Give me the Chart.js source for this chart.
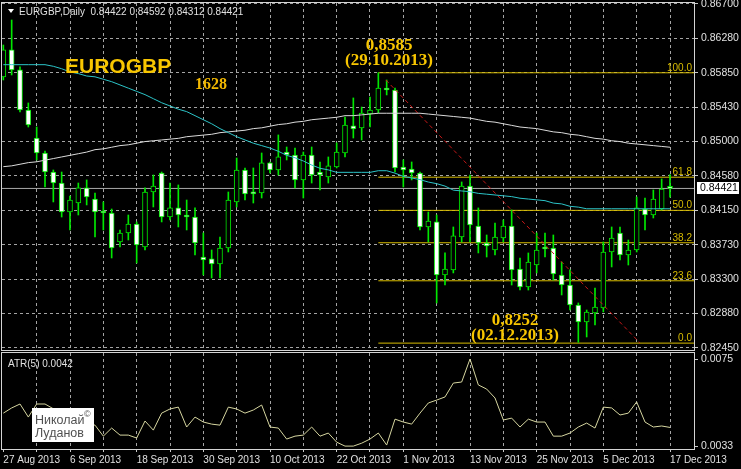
<!DOCTYPE html>
<html>
<head>
<meta charset="utf-8">
<script src="https://cdn.jsdelivr.net/npm/chart.js@4.4.1/dist/chart.umd.min.js"></script>
<style>
  html, body { margin: 0; padding: 0; background: #000; }
  #wrap { position: relative; width: 741px; height: 469px; background: #000; overflow: hidden; }
  #main { position: absolute; left: 0; top: 0; width: 741px; height: 351px; }
  #atr { position: absolute; left: 0; top: 351px; width: 741px; height: 118px; }
</style>
</head>
<body>
<div id="wrap">
  <canvas id="main" width="741" height="351"></canvas>
  <canvas id="atr" width="741" height="118"></canvas>
</div>
<script>
// daily bars, 27 Aug 2013 .. 17 Dec 2013
const dates = [
  '27 Aug 2013', '28 Aug 2013', '29 Aug 2013', '30 Aug 2013', '2 Sep 2013', '3 Sep 2013', '4 Sep 2013', '5 Sep 2013', '6 Sep 2013', '9 Sep 2013',
  '10 Sep 2013', '11 Sep 2013', '12 Sep 2013', '13 Sep 2013', '16 Sep 2013', '17 Sep 2013', '18 Sep 2013', '19 Sep 2013', '20 Sep 2013', '23 Sep 2013',
  '24 Sep 2013', '25 Sep 2013', '26 Sep 2013', '27 Sep 2013', '30 Sep 2013', '1 Oct 2013', '2 Oct 2013', '3 Oct 2013', '4 Oct 2013', '7 Oct 2013',
  '8 Oct 2013', '9 Oct 2013', '10 Oct 2013', '11 Oct 2013', '14 Oct 2013', '15 Oct 2013', '16 Oct 2013', '17 Oct 2013', '18 Oct 2013', '21 Oct 2013',
  '22 Oct 2013', '23 Oct 2013', '24 Oct 2013', '25 Oct 2013', '28 Oct 2013', '29 Oct 2013', '30 Oct 2013', '31 Oct 2013', '1 Nov 2013', '4 Nov 2013',
  '5 Nov 2013', '6 Nov 2013', '7 Nov 2013', '8 Nov 2013', '11 Nov 2013', '12 Nov 2013', '13 Nov 2013', '14 Nov 2013', '15 Nov 2013', '18 Nov 2013',
  '19 Nov 2013', '20 Nov 2013', '21 Nov 2013', '22 Nov 2013', '25 Nov 2013', '26 Nov 2013', '27 Nov 2013', '28 Nov 2013', '29 Nov 2013', '2 Dec 2013',
  '3 Dec 2013', '4 Dec 2013', '5 Dec 2013', '6 Dec 2013', '9 Dec 2013', '10 Dec 2013', '11 Dec 2013', '12 Dec 2013', '13 Dec 2013', '16 Dec 2013',
  '17 Dec 2013'
]

const open = [
  0.85798, 0.86132, 0.85885, 0.85390, 0.85044, 0.84859, 0.84624, 0.84488, 0.84130, 0.84241,
  0.84427, 0.84291, 0.84142, 0.84118, 0.83760, 0.83871, 0.83982, 0.83698, 0.84377, 0.84612,
  0.84068, 0.84180, 0.84093, 0.84068, 0.83574, 0.83550, 0.83488, 0.83685, 0.84254, 0.84649,
  0.84377, 0.84365, 0.84736, 0.84649, 0.84871, 0.84834, 0.84526, 0.84834, 0.84624, 0.84563,
  0.84686, 0.84859, 0.85193, 0.85168, 0.85341, 0.85390, 0.85662, 0.85637, 0.84686, 0.84661,
  0.84612, 0.83945, 0.84007, 0.83352, 0.83414, 0.83821, 0.84451, 0.83957, 0.83747, 0.83661,
  0.83809, 0.83957, 0.83426, 0.83204, 0.83475, 0.83685, 0.83685, 0.83352, 0.83228, 0.82981,
  0.82771, 0.82882, 0.82944, 0.83636, 0.83871, 0.83599, 0.83661, 0.84167, 0.84093, 0.84167,
  0.84422
]
const high = [
  0.86193, 0.86502, 0.85922, 0.85477, 0.85180, 0.84884, 0.84649, 0.84624, 0.84328, 0.84488,
  0.84526, 0.84365, 0.84254, 0.84167, 0.83908, 0.84093, 0.84007, 0.84427, 0.84587, 0.84624,
  0.84488, 0.84464, 0.84278, 0.84180, 0.83871, 0.83661, 0.83821, 0.84377, 0.84797, 0.84674,
  0.84674, 0.84859, 0.84748, 0.85082, 0.84933, 0.84921, 0.84871, 0.84933, 0.84748, 0.84810,
  0.84983, 0.85304, 0.85539, 0.85427, 0.85551, 0.85850, 0.85761, 0.85662, 0.84773, 0.84748,
  0.84624, 0.84130, 0.84093, 0.83624, 0.83945, 0.84501, 0.84587, 0.84180, 0.83846, 0.83994,
  0.84031, 0.84155, 0.83562, 0.83624, 0.83871, 0.83871, 0.83846, 0.83512, 0.83414, 0.83006,
  0.82919, 0.83191, 0.83760, 0.83945, 0.83945, 0.83784, 0.84315, 0.84303, 0.84402, 0.84538,
  0.84592
]
const low = [
  0.85761, 0.85823, 0.85366, 0.85180, 0.84773, 0.84439, 0.84254, 0.84068, 0.83908, 0.84093,
  0.84217, 0.83821, 0.83908, 0.83562, 0.83698, 0.83784, 0.83500, 0.83661, 0.84192, 0.84007,
  0.84031, 0.83945, 0.83908, 0.83599, 0.83352, 0.83315, 0.83315, 0.83636, 0.84192, 0.84278,
  0.84241, 0.84303, 0.84612, 0.84587, 0.84773, 0.84427, 0.84303, 0.84488, 0.84402, 0.84488,
  0.84674, 0.84810, 0.85044, 0.85020, 0.85180, 0.85353, 0.85576, 0.84624, 0.84439, 0.84526,
  0.83908, 0.83760, 0.83006, 0.83228, 0.83377, 0.83760, 0.83760, 0.83624, 0.83574, 0.83599,
  0.83760, 0.83228, 0.83166, 0.83166, 0.83377, 0.83574, 0.83290, 0.83105, 0.82919, 0.82520,
  0.82586, 0.82734, 0.82895, 0.83451, 0.83537, 0.83475, 0.83636, 0.83908, 0.84056, 0.84155,
  0.84312
]
const close = [
  0.86132, 0.85885, 0.85390, 0.85205, 0.84859, 0.84624, 0.84488, 0.84130, 0.84278, 0.84427,
  0.84315, 0.84130, 0.84118, 0.83685, 0.83871, 0.83982, 0.83722, 0.84377, 0.84451, 0.84068,
  0.84180, 0.84093, 0.84068, 0.83747, 0.83537, 0.83488, 0.83685, 0.84278, 0.84649, 0.84353,
  0.84353, 0.84736, 0.84649, 0.84810, 0.84834, 0.84526, 0.84834, 0.84587, 0.84587, 0.84699,
  0.84871, 0.85205, 0.85156, 0.85353, 0.85390, 0.85662, 0.85637, 0.84674, 0.84649, 0.84612,
  0.83945, 0.84019, 0.83352, 0.83426, 0.83834, 0.84451, 0.83970, 0.83747, 0.83710, 0.83821,
  0.83957, 0.83414, 0.83204, 0.83512, 0.83661, 0.83673, 0.83364, 0.83228, 0.82981, 0.82771,
  0.82895, 0.82956, 0.83636, 0.83809, 0.83599, 0.83661, 0.84180, 0.84093, 0.84291, 0.84414,
  0.84421
]

// moving averages drawn on the price window
const maFast = [
  0.8595, 0.8595, 0.8595, 0.8595, 0.8595, 0.8595, 0.8593, 0.8590, 0.8586, 0.8584,
  0.8581, 0.8580, 0.8577, 0.8574, 0.8570, 0.8566, 0.8562, 0.8558, 0.8553, 0.8548,
  0.8544, 0.8540, 0.8537, 0.8532, 0.8527, 0.8522, 0.8516, 0.8511, 0.8506, 0.8502,
  0.8498, 0.8495, 0.8492, 0.8488, 0.8483, 0.8480, 0.8476, 0.8471, 0.8467, 0.8465,
  0.8462, 0.8462, 0.8462, 0.8462, 0.8462, 0.8464, 0.8464, 0.8461, 0.8457, 0.8455,
  0.8453, 0.8450, 0.8448, 0.8445, 0.8440, 0.8439, 0.8438, 0.8436, 0.8435, 0.8434,
  0.8433, 0.8432, 0.8430, 0.8429, 0.8428, 0.8427, 0.8424, 0.8423, 0.8420, 0.8419,
  0.8417, 0.8417, 0.8417, 0.8417, 0.8417, 0.8417, 0.8417, 0.8417, 0.8417, 0.8417,
  0.8417
]
const maSlow = [
  0.8469, 0.8470, 0.8472, 0.8474, 0.8475, 0.8477, 0.8479, 0.8481, 0.8483, 0.8485,
  0.8487, 0.8490, 0.8491, 0.8493, 0.8495, 0.8496, 0.8498, 0.8500, 0.8501, 0.8502,
  0.8503, 0.8504, 0.8506, 0.8507, 0.8508, 0.8509, 0.8511, 0.8512, 0.8513, 0.8514,
  0.8516, 0.8517, 0.8519, 0.8521, 0.8522, 0.8524, 0.8525, 0.8527, 0.8528, 0.8529,
  0.8530, 0.8532, 0.8532, 0.8533, 0.8534, 0.8535, 0.8535, 0.8535, 0.8535, 0.8535,
  0.8535, 0.8534, 0.8533, 0.8532, 0.8531, 0.8530, 0.8529, 0.8527, 0.8525, 0.8524,
  0.8522, 0.8520, 0.8518, 0.8517, 0.8516, 0.8514, 0.8512, 0.8511, 0.8509, 0.8508,
  0.8506, 0.8504, 0.8503, 0.8501, 0.8500, 0.8498, 0.8497, 0.8496, 0.8495, 0.8494,
  0.8493
]

// ATR(5) sub window
const atr = [
  0.00489, 0.00514, 0.00533, 0.00470, 0.00533, 0.00533, 0.00510, 0.00490, 0.00470, 0.00450,
  0.00440, 0.00431, 0.00378, 0.00417, 0.00383, 0.00383, 0.00369, 0.00451, 0.00407, 0.00489,
  0.00509, 0.00518, 0.00422, 0.00470, 0.00446, 0.00436, 0.00431, 0.00518, 0.00509, 0.00489,
  0.00504, 0.00528, 0.00422, 0.00417, 0.00364, 0.00378, 0.00383, 0.00422, 0.00378, 0.00393,
  0.00349, 0.00330, 0.00330, 0.00344, 0.00364, 0.00393, 0.00335, 0.00460, 0.00446, 0.00436,
  0.00489, 0.00538, 0.00552, 0.00567, 0.00634, 0.00639, 0.00750, 0.00625, 0.00605, 0.00562,
  0.00456, 0.00465, 0.00422, 0.00460, 0.00446, 0.00446, 0.00378, 0.00378, 0.00393, 0.00422,
  0.00441, 0.00417, 0.00518, 0.00514, 0.00480, 0.00489, 0.00543, 0.00446, 0.00422, 0.00427,
  0.00420
]

const priceTicks = [0.867, 0.86275, 0.8585, 0.85425, 0.85, 0.84575, 0.8415, 0.83725, 0.833, 0.82875, 0.8245]
const priceLabels = ['0.86700', '0.86280', '0.85850', '0.85430', '0.85000', '0.84580', '0.84150', '0.83730', '0.83300', '0.82880', '0.82450']
const atrTicks = [0.0033, 0.0075]

// fibonacci retracement 29.10.2013 high -> 02.12.2013 low
const fibNames = ['0.0', '23.6', '38.2', '50.0', '61.8', '100.0']
const fibPrices = [0.8251, 0.8328, 0.8375, 0.8415, 0.8456, 0.8585]
const fibFrom = 45

// red dashed trend line
const trendX = [45.9, 76.4]
const trendY = [0.85761, 0.82512]

const xMin = -0.16
const xMax = 82.88
const last = close.length - 1
const idx = close.map((c, i) => i)

const green = '#00e800'
const gridColor = '#a4a4a4'
const textColor = '#e0e0e0'
const gold = '#f8c600'
const fibColor = '#d8bc00'

const gridBars = idx.filter(i => i > 0 && i % 4 === 0)

const frame = {
  id: 'frame',
  afterDraw(chart) {
    const { ctx, chartArea: a } = chart
    ctx.save()
    ctx.strokeStyle = '#d4d4d4'
    ctx.lineWidth = 1
    ctx.strokeRect(a.left - 0.5, a.top - 0.5, a.right - a.left + 1, a.bottom - a.top + 1)
    ctx.restore()
  }
}

const priceNotes = {
  id: 'priceNotes',
  afterDraw(chart) {
    const { ctx, chartArea: a } = chart
    const ys = chart.scales.y
    ctx.save()

    // header
    ctx.fillStyle = '#ffffff'
    ctx.beginPath()
    ctx.moveTo(8, 9); ctx.lineTo(14, 9); ctx.lineTo(11, 13); ctx.closePath()
    ctx.fill()
    ctx.fillStyle = textColor
    ctx.font = '10px "Liberation Sans"'
    ctx.textBaseline = 'middle'
    ctx.fillText('EURGBP,Daily  ' + [open[last], high[last], low[last], close[last]].map(v => v.toFixed(5)).join(' '), 19, 12)

    // fib level names
    ctx.fillStyle = fibColor
    ctx.textAlign = 'right'
    ctx.textBaseline = 'alphabetic'
    fibNames.forEach((n, k) => {
      ctx.fillText(n, a.right - 2, ys.getPixelForValue(fibPrices[k]) - 2)
    })

    // titles
    ctx.textAlign = 'left'
    ctx.fillStyle = gold
    ctx.font = 'bold 21px "Liberation Sans"'
    ctx.fillText('EUROGBP', 65, 73)
    ctx.fillStyle = '#f2b800'
    ctx.font = 'bold 16px "Liberation Serif"'
    ctx.fillText('1628', 195, 89)

    ctx.fillStyle = gold
    ctx.textAlign = 'center'
    ctx.font = 'bold 17px "Liberation Serif"'
    ctx.fillText('0,8585', 389, 50)
    ctx.fillText('(29.10.2013)', 389, 65)
    ctx.fillText('0,8252', 515, 325)
    ctx.fillText('(02.12.2013)', 515, 340)

    // last price box
    const py = Math.round(ys.getPixelForValue(close[last]))
    ctx.fillStyle = '#ffffff'
    ctx.fillRect(697, py - 6, 42, 12)
    ctx.fillStyle = '#000000'
    ctx.textAlign = 'left'
    ctx.textBaseline = 'middle'
    ctx.font = '10.5px "Liberation Sans"'
    ctx.fillText(close[last].toFixed(5), 700, py + 0.5)
    ctx.restore()
  }
}

const lineSet = (data, color, order, extra) => Object.assign({
  type: 'line', data: data, borderColor: color, borderWidth: 1,
  pointRadius: 0, tension: 0, fill: false, order: order
}, extra || {})

const datasets = [
  lineSet(idx.map(i => ({ x: i, y: maFast[i] })), '#2cc4c8', 0),
  lineSet(idx.map(i => ({ x: i, y: maSlow[i] })), '#dadada', 0),
  lineSet(trendX.map((x, k) => ({ x: x, y: trendY[k] })), '#c81818', 0, { borderDash: [4, 3] }),
  {
    type: 'bar', order: 1, grouped: false,
    data: idx.map(i => ({ x: i, y: [open[i], close[i]] })),
    backgroundColor: c => close[c.dataIndex] > open[c.dataIndex] ? '#000000' : '#ffffff',
    borderColor: green, borderWidth: 1, borderSkipped: false,
    barThickness: 5, minBarLength: 2
  },
  {
    type: 'bar', order: 2, grouped: false,
    data: idx.map(i => ({ x: i, y: [low[i], high[i]] })),
    backgroundColor: green, borderWidth: 0, barThickness: 1
  },
  ...fibPrices.map(p => lineSet([{ x: fibFrom, y: p }, { x: xMax, y: p }], fibColor, 3)),
  lineSet([{ x: xMin, y: close[last] }, { x: xMax, y: close[last] }], '#a8a8a8', 4)
]

new Chart(document.getElementById('main'), {
  type: 'line',
  data: { datasets: datasets },
  plugins: [frame, priceNotes],
  options: {
    responsive: false,
    animation: false,
    events: [],
    layout: { padding: { left: 2, top: 3, right: 0, bottom: 1 } },
    plugins: { legend: { display: false }, tooltip: { enabled: false } },
    scales: {
      x: {
        type: 'linear', min: xMin, max: xMax, offset: false,
        afterBuildTicks: s => { s.ticks = gridBars.map(v => ({ value: v })) },
        afterFit: s => { s.height = 0; s.paddingLeft = 0; s.paddingRight = 0 },
        ticks: { display: false },
        grid: { color: gridColor, drawTicks: false, offset: false },
        border: { display: false, dash: [3, 3] }
      },
      y: {
        type: 'linear', position: 'right', min: 0.82425, max: 0.86712,
        afterBuildTicks: s => { s.ticks = priceTicks.map(v => ({ value: v })) },
        afterFit: s => { s.width = 47; s.paddingTop = 0; s.paddingBottom = 0 },
        ticks: {
          color: textColor, padding: 3, autoSkip: false,
          font: { family: 'Liberation Sans', size: 10.5 },
          callback: (v, i) => priceLabels[i]
        },
        grid: { color: gridColor, tickLength: 4, tickColor: '#c8c8c8', tickBorderDash: [] },
        border: { display: false, dash: [3, 3] }
      }
    }
  }
})

const atrNotes = {
  id: 'atrNotes',
  afterDraw(chart) {
    const { ctx } = chart
    ctx.save()
    ctx.fillStyle = textColor
    ctx.font = '10px "Liberation Sans"'
    ctx.textBaseline = 'middle'
    ctx.fillText('ATR(5) ' + atr[last].toFixed(4), 8, 13)

    // author box
    ctx.fillStyle = '#ffffff'
    ctx.fillRect(32, 57, 62, 34)
    ctx.fillStyle = '#505050'
    ctx.textBaseline = 'alphabetic'
    ctx.font = '12.5px "Liberation Sans"'
    ctx.fillText('Николай', 35, 73)
    ctx.fillText('Луданов', 35, 86)
    ctx.font = '9px "Liberation Sans"'
    ctx.fillText('©', 84, 66)
    ctx.restore()
  }
}

new Chart(document.getElementById('atr'), {
  type: 'line',
  data: {
    datasets: [lineSet(idx.map(i => ({ x: i, y: atr[i] })), '#d6d6a0', 0)]
  },
  plugins: [frame, atrNotes],
  options: {
    responsive: false,
    animation: false,
    events: [],
    layout: { padding: { left: 2, top: 2, right: 0, bottom: 0 } },
    plugins: { legend: { display: false }, tooltip: { enabled: false } },
    scales: {
      x: {
        type: 'linear', min: xMin, max: xMax, offset: false,
        afterBuildTicks: s => { s.ticks = idx.filter(i => i % 4 === 0).map(v => ({ value: v })) },
        afterFit: s => { s.height = 20; s.paddingLeft = 0; s.paddingRight = 0 },
        ticks: {
          color: textColor, align: 'start', maxRotation: 0, autoSkip: false, padding: 2,
          font: { family: 'Liberation Sans', size: 10 },
          callback: v => (v % 8 === 0 ? dates[v] : '')
        },
        grid: {
          color: c => (c.tick && c.tick.value === 0 ? 'rgba(0,0,0,0)' : gridColor),
          tickLength: 3, tickColor: '#c8c8c8', tickBorderDash: [], offset: false
        },
        border: { display: false, dash: [3, 3] }
      },
      y: {
        type: 'linear', position: 'right', min: 0.00316, max: 0.00779,
        afterBuildTicks: s => { s.ticks = atrTicks.map(v => ({ value: v })) },
        afterFit: s => { s.width = 47; s.paddingTop = 0; s.paddingBottom = 0 },
        ticks: {
          color: textColor, padding: 3, autoSkip: false,
          font: { family: 'Liberation Sans', size: 10.5 },
          callback: v => v.toFixed(4)
        },
        grid: { drawOnChartArea: false, tickLength: 4, tickColor: '#c8c8c8' },
        border: { display: false }
      }
    }
  }
})
</script>
</body>
</html>
